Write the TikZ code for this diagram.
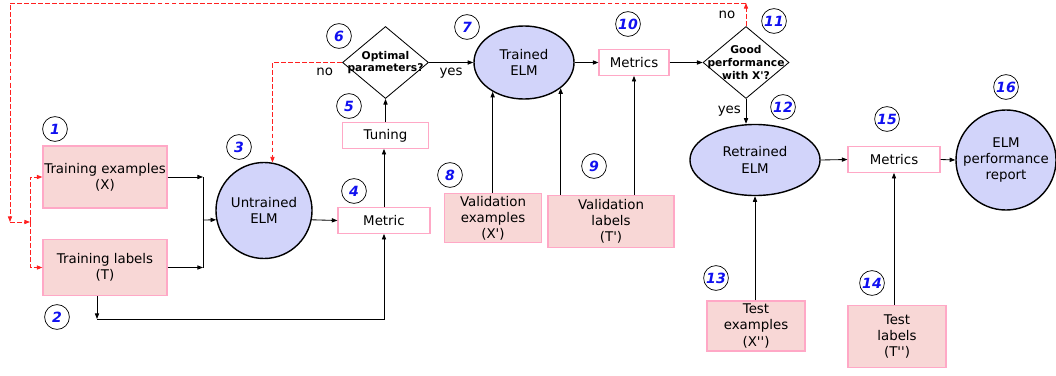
\documentclass[tikz,border=0pt]{standalone}
\usepackage{fontspec}
\setmainfont{DejaVu Sans}
\usepackage{tikz}
\usetikzlibrary{arrows.meta, positioning, shapes.geometric}
\usepackage{xcolor}
\definecolor{elmBlue}{HTML}{D2D4FA}
\definecolor{dataPink}{HTML}{F8D7D6}
\definecolor{edgePink}{HTML}{FFA8C6}
\definecolor{loopRed}{HTML}{FF2020}
\definecolor{numBlue}{HTML}{1010F0}
\newcommand{\pr}{\textquotesingle}

\begin{document}
\begin{tikzpicture}[>={Triangle[length=4pt,width=3pt]}, x=0.025cm, y=-0.025cm, line width=0.6pt,
    font=\fontsize{9.5}{11.5}\selectfont,
    data/.style={draw=edgePink, line width=0.8pt, fill=dataPink, align=center, inner sep=0pt},
    score/.style={draw=edgePink, line width=0.8pt, fill=white, align=center, minimum height=0.64cm, inner sep=1pt},
    elm/.style={draw, line width=1pt, fill=elmBlue, align=center, inner sep=0pt},
    decision/.style={diamond, draw, align=center, inner sep=-8pt, minimum width=2.15cm, minimum height=1.8cm, font=\fontsize{7.6}{9}\selectfont\bfseries},
    stepnum/.style={circle, draw, line width=0.5pt, fill=white, minimum size=0.62cm, inner sep=0pt, text=numBlue, font=\fontsize{10}{10}\selectfont\bfseries\itshape},
    redo/.style={draw=loopRed, dash pattern=on 3.5pt off 1.5pt}]
      \useasboundingbox (0,0) rectangle (1056,375);

      % training data and model
      \node[data, minimum width=3.1cm, minimum height=1.55cm] (trainx) at (105,177) {Training examples\\(X)};
      \node[data, minimum width=3.1cm, minimum height=1.4cm] (traint) at (105,267.5) {Training labels\\(T)};
      \node[elm, circle, minimum size=2.4cm] (untrained) at (264,210.5) {Untrained\\ELM};
      \node[score, minimum width=2.3cm] (metric) at (384,220.5) {Metric};
      \node[score, minimum width=2.15cm] (tuning) at (385.5,135.5) {Tuning};
      \node[decision] (optimal) at (385.5,62.5) {Optimal\\parameters?};

      % validation
      \node[elm, ellipse, minimum width=2.5cm, minimum height=1.825cm] (trained) at (524,62.5) {Trained\\ELM};
      \node[score, minimum width=1.75cm] (metricsval) at (634,62.5) {Metrics};
      \node[decision] (goodperf) at (746,62.5) {Good\\performance\\with X\pr?};
      \node[data, minimum width=2.425cm, minimum height=1.225cm] (valx) at (493,218) {Validation\\examples\\(X\pr)};
      \node[data, minimum width=3.15cm, minimum height=1.3cm] (valt) at (611,221.5) {Validation\\labels\\(T\pr)};

      % test
      \node[elm, ellipse, minimum width=3.25cm, minimum height=1.775cm] (retrained) at (755,160) {Retrained\\ELM};
      \node[score, minimum width=2.3cm] (metricstest) at (894,159.5) {Metrics};
      \node[elm, circle, minimum size=2.5cm] (report) at (1006,160) {ELM\\performance\\report};
      \node[data, minimum width=2.45cm, minimum height=1.25cm] (testx) at (756,326) {Test\\examples\\(X\pr\pr)};
      \node[data, minimum width=2.45cm, minimum height=1.55cm] (testt) at (897,336.5) {Test\\labels\\(T\pr\pr)};

      % step numbers
      \node[stepnum] (n1) at (55,129) {1};
      \node[stepnum] (n2) at (57,317) {2};
      \node[stepnum] (n3) at (239,147) {3};
      \node[stepnum] (n4) at (354,191) {4};
      \node[stepnum] (n5) at (349,106) {5};
      \node[stepnum] (n6) at (339,36) {6};
      \node[stepnum] (n7) at (467,27) {7};
      \node[stepnum] (n8) at (450,175) {8};
      \node[stepnum] (n9) at (594,166) {9};
      \node[stepnum] (n10) at (628,24) {10};
      \node[stepnum] (n11) at (774,21) {11};
      \node[stepnum] (n12) at (783,107) {12};
      \node[stepnum] (n13) at (716,278) {13};
      \node[stepnum] (n14) at (872,283) {14};
      \node[stepnum] (n15) at (887,119) {15};
      \node[stepnum] (n16) at (1006,87) {16};

      % helper points
      \coordinate (merge) at (203,220);
      \coordinate (under) at (97,319);
      \coordinate (topright) at (746,3);
      \coordinate (topleft) at (10,3);
      \coordinate (leftdrop) at (10,222);
      \coordinate (fork) at (30,222);

      % main flow
      \draw[->] (trainx.east) -- (trainx.east -| merge);
      \draw[->] (traint.east) -- (traint.east -| merge);
      \draw (trainx.east -| merge) -- (traint.east -| merge);
      \draw[->] (merge) -- (untrained.191);
      \draw[->] (traint.south -| under) -- (under);
      \draw[->] (under) -| (metric.south);
      \draw[->] (untrained.-11) -- (metric.west);
      \draw[->] (metric.north) -- (metric.north |- tuning.south);
      \draw[->] (tuning.north) -- (optimal.south);
      \draw[->] (optimal.east) -- node[below]{yes} (trained.west);
      \draw[->] (trained.east) -- (metricsval.west);
      \draw[->] (metricsval.east) -- (goodperf.west);
      \draw[->] (trained.223 |- valx.north) -- (trained.223);
      \draw[->] (trained.325 |- valt.north) -- (trained.325);
      \draw[->] (metricsval.south |- valt.north) -- (metricsval.south);
      \draw[->] (goodperf.south) -- node[left]{yes} (goodperf.south |- retrained.north);
      \draw[->] (retrained.east) -- (metricstest.west);
      \draw[->] (metricstest.east) -- (report.west);
      \draw[->] (testx.north -| retrained.south) -- (retrained.south);
      \draw[->] (testt.north -| metricstest.south) -- (metricstest.south);

      % loops back
      \draw[redo,->] (optimal.west) -- node[below, pos=0.25]{no} (optimal.west -| untrained.80) -- (untrained.80);
      \draw[redo,->] (goodperf.north) -- node[left=4pt]{no} (topright);
      \draw[redo,->] (topright) -- (topleft) -- (leftdrop);
      \draw[redo,->] (leftdrop) -- (fork);
      \draw[redo,->] (fork) |- (trainx.west);
      \draw[redo,->] (fork) |- (traint.west);
    \end{tikzpicture}
\end{document}
